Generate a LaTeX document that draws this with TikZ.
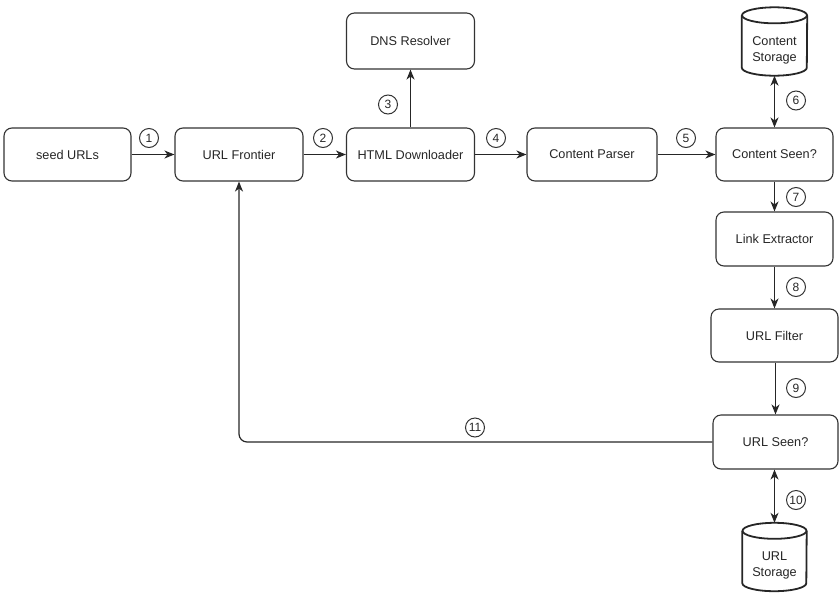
\documentclass[tikz,border=0pt]{standalone}
\usepackage{fontspec}
\setmainfont{Liberation Sans}
\usetikzlibrary{arrows.meta,calc}
\begin{document}
\begin{tikzpicture}[x=1pt,y=-1pt,
  every node/.style={font=\fontsize{12.7}{15}\selectfont, text=black!85},
  box/.style={draw=black!80, line width=1.1pt, rounded corners=8pt, align=center, inner sep=0pt},
  num/.style={draw=black!80, circle, line width=1pt, minimum size=19pt, inner sep=0pt, font=\fontsize{12}{13}\selectfont},
  arr/.style={draw=black!85, line width=1.2pt, -{Stealth[length=10pt,width=8pt,inset=3pt]}},
  darr/.style={draw=black!85, line width=1.2pt, {Stealth[length=10pt,width=8pt,inset=3pt]}-{Stealth[length=10pt,width=8pt,inset=3pt]}},
  cylb/.style={inner sep=0pt},
  cyl/.style={draw=black!85, line width=1.8pt, fill=white},
  txt/.style={align=center, inner sep=0pt, font=\fontsize{12.7}{15.5}\selectfont}
]
\useasboundingbox (0,0) rectangle (840,592);
% boxes
\node[box, minimum width=127pt, minimum height=53pt] (seed) at (67.5,154.5) {seed URLs};
\node[box, minimum width=128pt, minimum height=53pt] (fr) at (239,154.5) {URL Frontier};
\node[box, minimum width=128pt, minimum height=53pt] (hd) at (410.5,154.5) {HTML Downloader};
\node[box, minimum width=128pt, minimum height=56pt] (dns) at (410.5,41) {DNS Resolver};
\node[box, minimum width=130pt, minimum height=53pt] (cp) at (592,154.5) {Content Parser};
\node[box, minimum width=117pt, minimum height=53pt] (csn) at (774.5,154.5) {Content Seen?};
\node[box, minimum width=117pt, minimum height=54pt] (le) at (774.5,239) {Link Extractor};
\node[box, minimum width=127pt, minimum height=53pt] (uf) at (774.5,335.5) {URL Filter};
\node[box, minimum width=125pt, minimum height=54pt] (us) at (775.5,442) {URL Seen?};
% cylinders
\node[cylb, minimum width=65pt, minimum height=68pt] (cst) at (774.5,41.5) {};
\draw[cyl] ($(cst.north west)+(0,8)$) -- ($(cst.south west)+(0,-8)$)
  arc[start angle=180, end angle=0, x radius=32.5, y radius=8] -- ($(cst.north east)+(0,8)$);
\draw[cyl] ($(cst.north)+(0,8)$) ellipse[x radius=32.5, y radius=8];
\node[txt] (cstt) at ($(cst.center)+(0,9)$) {Content\\Storage};
\node[cylb, minimum width=64pt, minimum height=68pt] (ust) at (774.5,557) {};
\draw[cyl] ($(ust.north west)+(0,8)$) -- ($(ust.south west)+(0,-8)$)
  arc[start angle=180, end angle=0, x radius=32, y radius=8] -- ($(ust.north east)+(0,8)$);
\draw[cyl] ($(ust.north)+(0,8)$) ellipse[x radius=32, y radius=8];
\node[txt] (ustt) at ($(ust.center)+(0,8.5)$) {URL\\Storage};
% connectors
\draw[arr] (seed) -- (fr);
\draw[arr] (fr) -- (hd);
\draw[arr] (hd) -- (dns);
\draw[arr] (hd) -- (cp);
\draw[arr] (cp) -- (csn);
\draw[darr] (cst.south) -- (csn.north);
\draw[arr] (csn) -- (le);
\draw[arr] (le) -- (le.south |- uf.north);
\draw[arr] (uf.south -| us.north) -- (us.north);
\draw[darr] (us.south -| ust.north) -- (ust.north);
\draw[arr, rounded corners=8pt] (us.west) -| (fr.south);
% numbers
\node[num] (n1) at (149,138) {1};
\node[num] (n2) at (323,138) {2};
\node[num] (n3) at (388,104.5) {3};
\node[num] (n4) at (496,138) {4};
\node[num] (n5) at (686,138) {5};
\node[num] (n6) at (796,100.5) {6};
\node[num] (n7) at (796,197) {7};
\node[num] (n8) at (796,287) {8};
\node[num] (n9) at (796,388) {9};
\node[num] (n10) at (796,500) {10};
\node[num] (n11) at (475,427.5) {11};
\end{tikzpicture}
\end{document}
